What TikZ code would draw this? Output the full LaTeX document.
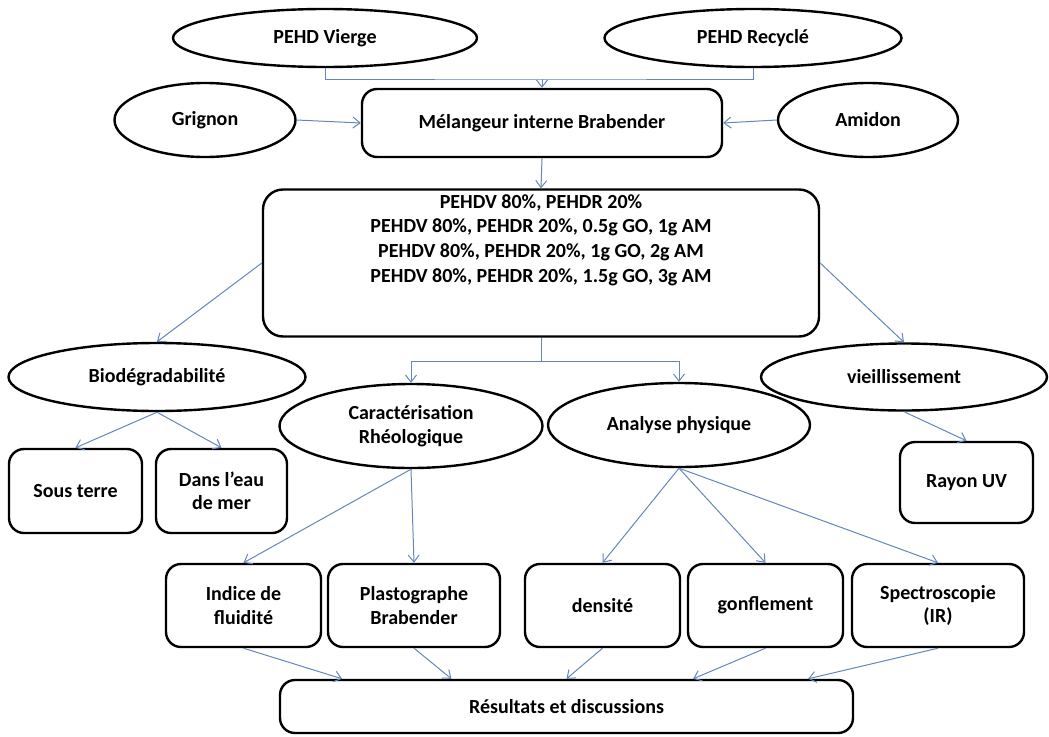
\documentclass[tikz,border=0pt]{standalone}
\usepackage{fontspec}
\setmainfont{Carlito}
\usetikzlibrary{positioning, shapes.geometric, arrows.meta, calc}
\definecolor{linkblue}{RGB}{100,134,188}
\tikzset{
    blob/.style={ellipse, draw=black, line width=2.4pt, fill=white, align=center, inner sep=0pt},
    stepbox/.style={rectangle, draw=black, line width=2.4pt, rounded corners=15pt, fill=white, align=center, inner sep=0pt},
    link/.style={draw=linkblue, line width=1pt},
    linkto/.style={link, -{Straight Barb[length=7pt, width=11pt]}},
}
\begin{document}
\begin{tikzpicture}[x=1pt, y=-1pt, font=\fontsize{20}{23.5}\selectfont\bfseries]
    \useasboundingbox (0,0) rectangle (1049,736);
    % inputs
    \node[blob, minimum width=304pt, minimum height=58pt] (vierge) at (325,38) {PEHD Vierge};
    \node[blob, minimum width=297pt, minimum height=58pt] (recycle) at (753,38) {PEHD Recyclé};
    \node[blob, minimum width=181pt, minimum height=74pt] (grignon) at (205,120) {Grignon};
    \node[blob, minimum width=180pt, minimum height=74pt] (amidon) at (868,120) {Amidon};
    \node[stepbox, minimum width=360pt, minimum height=68pt] (melangeur) at (542,123) {Mélangeur interne Brabender};
    % blends
    \node[stepbox, rounded corners=20pt, minimum width=556pt, minimum height=147pt] (compo) at (541,263) {};
    \node[align=center, font=\fontsize{20}{24.6}\selectfont\bfseries] (melanges) at (541,240) {PEHDV 80\%, PEHDR 20\%\\
        PEHDV 80\%, PEHDR 20\%, 0.5g GO, 1g AM\\
        PEHDV 80\%, PEHDR 20\%, 1g GO, 2g AM\\
        PEHDV 80\%, PEHDR 20\%, 1.5g GO, 3g AM};
    % studies
    \node[blob, minimum width=297pt, minimum height=68pt] (biodeg) at (157,377) {Biodégradabilité};
    \node[blob, minimum width=263pt, minimum height=84pt] (carac) at (411,426) {Caractérisation\\Rhéologique};
    \node[blob, minimum width=262pt, minimum height=84pt] (analyse) at (679,425) {Analyse physique};
    \node[blob, minimum width=286pt, minimum height=67pt] (vieil) at (904,377) {vieillissement};
    % tests
    \node[stepbox, minimum width=133pt, minimum height=84pt] (sousterre) at (75.5,491) {Sous terre};
    \node[stepbox, minimum width=131pt, minimum height=84pt] (eaumer) at (221.5,491) {Dans l’eau\\de mer};
    \node[stepbox, minimum width=133pt, minimum height=81pt] (rayon) at (966.5,482.5) {Rayon UV};
    \node[stepbox, minimum width=155pt, minimum height=83pt] (indice) at (243.5,605.5) {Indice de\\fluidité};
    \node[stepbox, minimum width=172pt, minimum height=83pt] (plasto) at (414,605.5) {Plastographe\\Brabender};
    \node[stepbox, minimum width=155pt, minimum height=83pt] (densite) at (602.5,605.5) {densité};
    \node[stepbox, minimum width=155pt, minimum height=83pt] (gonfl) at (765.5,605.5) {gonflement};
    \node[stepbox, minimum width=172pt, minimum height=83pt] (spectro) at (938,605.5) {Spectroscopie\\(IR)};
    \node[stepbox, minimum width=573pt, minimum height=53pt] (result) at (566.5,706.5) {Résultats et discussions};
    % connectors
    \coordinate (join) at (542,79);
    \draw[link] (vierge.south) |- (join) -| (recycle.south);
    \draw[linkto] (join) -- (melangeur.north);
    \draw[linkto] (grignon.east) -- (melangeur.west);
    \draw[linkto] (amidon.west) -- (melangeur.east);
    \draw[linkto] (melangeur.south) -- (compo.north);
    \draw[linkto] (compo.west) -- (biodeg.north);
    \draw[linkto] (compo.east) -- (vieil.north);
    \coordinate (split) at (541,361);
    \draw[link] (compo.south) -- (split);
    \draw[linkto] (split) -| (carac.north);
    \draw[linkto] (split) -| (analyse.north);
    \draw[linkto] (biodeg.south) -- (sousterre.north);
    \draw[linkto] (biodeg.south) -- (eaumer.north);
    \draw[linkto] (vieil.south) -- (rayon.north);
    \draw[linkto] (carac.south) -- (indice.north);
    \draw[linkto] (carac.south) -- (plasto.north);
    \foreach \t in {densite, gonfl, spectro}
        \draw[linkto] (analyse.south) -- (\t.north);
    \foreach \t/\f in {indice/0.11, plasto/0.3, densite/0.5, gonfl/0.72, spectro/0.92}
        \draw[linkto] (\t.south) -- ($(result.north west)!\f!(result.north east)$);
\end{tikzpicture}
\end{document}
